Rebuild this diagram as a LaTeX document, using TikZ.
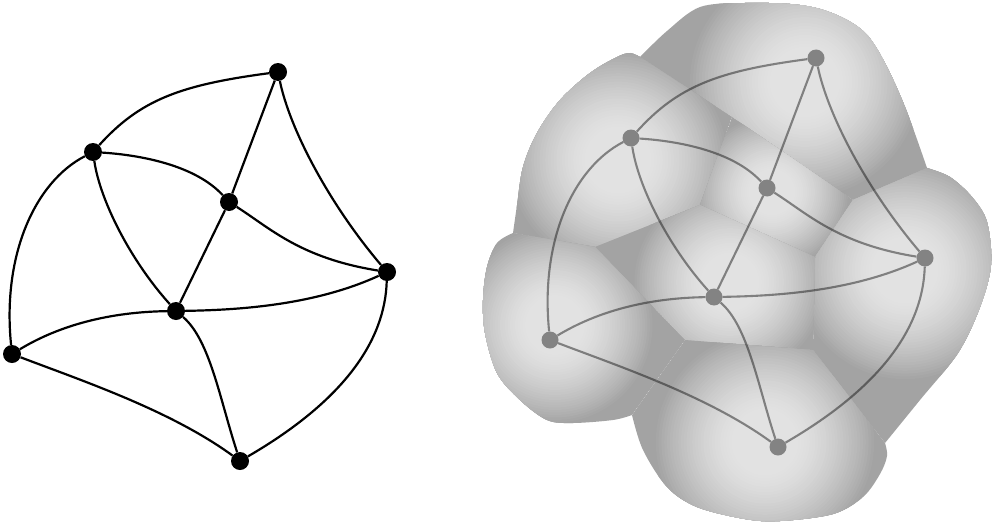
\documentclass[tikz,border=0pt]{standalone}
\definecolor{cellL}{RGB}{226,226,226}
\definecolor{cellD}{RGB}{163,163,163}
\tikzset{
 gnode/.style={circle,fill=black,inner sep=0pt,minimum size=18pt},
 gedge/.style={draw=black,line width=2.2pt},
 gnodeR/.style={circle,fill=black,fill opacity=0.42,inner sep=0pt,minimum size=17pt},
 gedgeR/.style={draw=black,draw opacity=0.43,line width=2.1pt},
}
\newcommand\mygraph[3]{%
 \node[#2] (#1A) at (278,72) {};
 \node[#2] (#1B) at (93,152) {};
 \node[#2] (#1C) at (229,202) {};
 \node[#2] (#1D) at (387,272) {};
 \node[#2] (#1E) at (176,311) {};
 \node[#2] (#1F) at (12,354) {};
 \node[#2] (#1G) at (240,461) {};
 \draw[#3] (#1B) .. controls (140,100) and (180,85) .. (#1A);
 \draw[#3] (#1A) -- (#1C);
 \draw[#3] (#1A) .. controls (290,130) and (330,205) .. (#1D);
 \draw[#3] (#1B) .. controls (140,155) and (195,165) .. (#1C);
 \draw[#3] (#1B) .. controls (100,200) and (130,260) .. (#1E);
 \draw[#3] (#1B) .. controls (35,182) and (2,255) .. (#1F);
 \draw[#3] (#1C) -- (#1E);
 \draw[#3] (#1C) .. controls (270,228) and (300,258) .. (#1D);
 \draw[#3] (#1E) .. controls (240,310) and (315,305) .. (#1D);
 \draw[#3] (#1E) .. controls (110,312) and (60,325) .. (#1F);
 \draw[#3] (#1E) .. controls (210,340) and (220,400) .. (#1G);
 \draw[#3] (#1F) .. controls (80,380) and (170,410) .. (#1G);
 \draw[#3] (#1D) .. controls (385,340) and (345,400) .. (#1G);
}
\newcommand\outerpath{(640,57) -- plot[smooth,tension=0.55] coordinates {(640,57) (667,31) (700,7) (745,3) (790,4) (820,9) (847,20) (868,36) (887,67) (907,112) (927,168)}
 -- plot[smooth,tension=0.55] coordinates {(927,168) (950,177) (972,197) (987,222) (991,265) (980,307) (958,353) (920,400) (885,443)}
 -- plot[smooth,tension=0.55] coordinates {(885,443) (887,456) (880,474) (863,497) (833,514) (780,521) (745,519) (697,507) (667,487) (643,450) (632,415)}
 -- plot[smooth,tension=0.55] coordinates {(632,415) (613,420) (573,423) (547,420) (520,400) (497,373) (485,333) (483,300) (487,267) (497,243) (513,233)}
 -- plot[smooth,tension=0.55] coordinates {(513,233) (517,205) (523,167) (537,133) (560,100) (590,73) (617,57) (630,53) (640,57)} -- cycle}
\newcommand\mycell[3]{\begin{scope}\clip #1; \fill[cellD] #1;
 \foreach \i in {0,...,39}{%
  \pgfmathsetmacro\mys{1-\i/40}%
  \pgfmathsetmacro\myt{max(0.0001,(\mys-0.28)/0.72)}%
  \pgfmathsetmacro\myp{100*(1-\myt^1.5)}%
  \fill[cellL!\myp!cellD] #2 circle[radius={#3*\mys*1pt}];
 }\end{scope}}
\begin{document}
\begin{tikzpicture}[x=1pt,y=-1pt]
\useasboundingbox (0,0) rectangle (992,527);
\coordinate (V1) at (732,117);
\coordinate (V2) at (700,205);
\coordinate (V3) at (853,200);
\coordinate (V4) at (815,257);
\coordinate (V5) at (813,350);
\coordinate (V6) at (685,340);
\coordinate (V7) at (595,247);
\begin{scope}
 \clip \outerpath;
 \mycell{(V1) -- (456,-63) -- (800,-130) -- (1075,104) -- (V3) -- cycle}{(805,82)}{118}
 \mycell{(V7) -- (349,205) -- (456,-63) -- (V1) -- (V2) -- cycle}{(618,160)}{112}
 \mycell{(V1) -- (V2) -- (V4) -- (V3) -- cycle}{(772,192)}{78}
 \mycell{(V3) -- (V4) -- (V5) -- (1029,629) -- (1150,300) -- (1075,104) -- cycle}{(905,270)}{112}
 \mycell{(V2) -- (V7) -- (V6) -- (V5) -- (V4) -- cycle}{(730,282)}{98}
 \mycell{(V7) -- (V6) -- (526,565) -- (380,520) -- (349,205) -- cycle}{(555,325)}{100}
 \mycell{(V6) -- (V5) -- (1029,629) -- (526,565) -- cycle}{(765,442)}{112}
\end{scope}
\mygraph{L}{gnode}{gedge}
\begin{scope}[shift={(538,-14)}]
 \mygraph{R}{gnodeR}{gedgeR}
\end{scope}
\end{tikzpicture}
\end{document}
